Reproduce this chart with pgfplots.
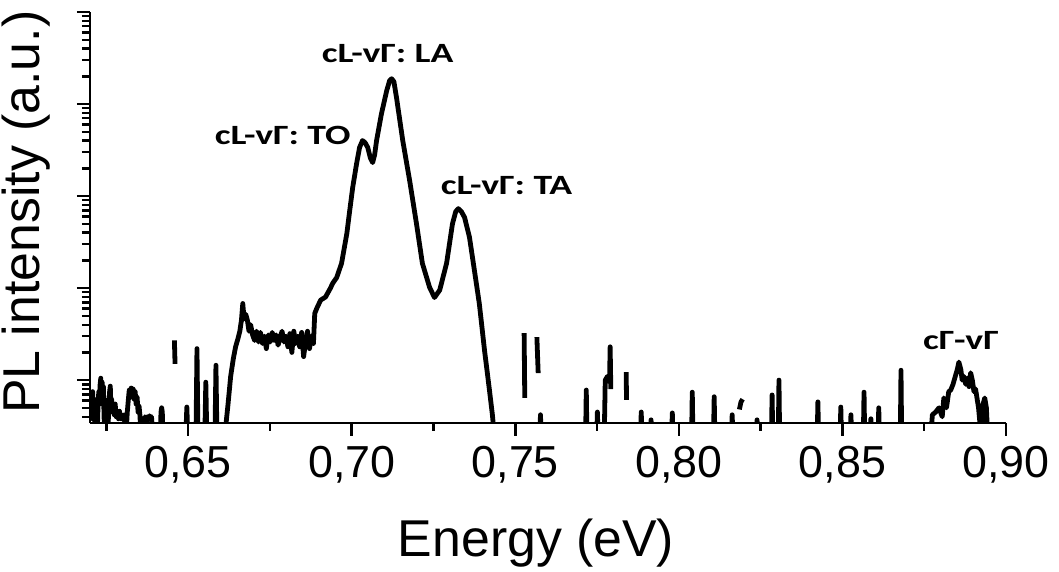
\documentclass[border=0pt]{standalone}
\usepackage{fontspec}
\setmainfont{Liberation Sans}
\newfontfamily\annfont{Carlito}
\usepackage{graphicx}
\usepackage{pgfplots}
\pgfplotsset{compat=1.18}
\newcommand{\ann}[1]{\scalebox{1.35}[1]{\fontsize{28}{33}\selectfont\annfont\bfseries #1}}
\begin{document}
\begin{tikzpicture}
\useasboundingbox (-90bp,-149bp) rectangle (969bp,423bp);
\begin{axis}[
  at={(0,0)}, anchor=south west,
  scale only axis, width=916bp, height=411bp,
  xmin=0.62, xmax=0.90, ymode=log, ymin=0.342, ymax=10000,
  axis x line*=bottom, axis y line*=left,
  axis line style={line width=2.5bp, -},
  xtick={0.65,0.70,0.75,0.80,0.85,0.90},
  minor xtick={0.625,0.675,0.725,0.775,0.825,0.875},
  ytick={1,10,100,1000,10000}, yticklabels={},
  minor ytick={0.4,0.5,0.6,0.7,0.8,0.9,2,3,4,5,6,7,8,9,20,30,40,50,60,70,80,90,200,300,400,500,600,700,800,900,2000,3000,4000,5000,6000,7000,8000,9000},
  tick align=outside,
  major tick length=13bp, minor tick length=8bp,
  every tick/.append style={line width=2.6bp, black},
  every minor tick/.append style={line width=2.4bp, black},
  xticklabel style={font=\fontsize{45}{54}\selectfont, yshift=-7bp,
    /pgf/number format/.cd, use comma, fixed, fixed zerofill, precision=2, assume math mode=true},
  xlabel={Energy (eV)}, ylabel={PL intensity (a.u.)},
  xlabel style={font=\fontsize{52}{62}\selectfont, at={(axis description cs:0.487,-0.326)}, anchor=base, inner sep=0pt},
  ylabel style={font=\fontsize{52}{62}\selectfont, at={(axis description cs:-0.0437,0.513)}, anchor=south, inner sep=0pt},
  unbounded coords=jump,
]
\addplot[black, line width=4.8bp, line join=round, no markers] table {
x y
0.6200 0.60
0.6202 0.38
0.6204 0.70
0.6206 0.40
0.6208 0.75
0.6210 0.42
0.6212 0.62
0.6214 0.36
0.6216 0.58
0.6218 0.30
0.6220 0.45
0.6222 0.25
0.6225 0.60
0.6227 0.75
0.6229 0.55
0.6231 0.90
0.6233 1.05
0.6235 0.60
0.6237 0.95
0.6239 0.55
0.6241 0.85
0.6243 0.40
0.6245 0.25
0.6248 0.45
0.6250 0.60
0.6252 0.40
0.6254 0.25
0.6258 0.55
0.6260 0.75
0.6262 0.86
0.6264 0.50
0.6266 0.62
0.6268 0.45
0.6271 0.52
0.6274 0.42
0.6277 0.55
0.6280 0.40
0.6283 0.46
0.6287 0.38
0.6290 0.46
0.6294 0.38
0.6297 0.42
0.6301 0.37
0.6304 0.42
0.6307 0.36
0.6310 0.25
0.6314 0.45
0.6317 0.60
0.6320 0.78
0.6323 0.65
0.6326 0.82
0.6329 0.70
0.6332 0.80
0.6335 0.62
0.6338 0.75
0.6341 0.55
0.6344 0.65
0.6347 0.45
0.6350 0.52
0.6353 0.40
0.6355 0.25
0.6366 0.25
0.6368 0.40
0.6372 0.36
0.6375 0.40
0.6378 0.37
0.6382 0.41
0.6385 0.38
0.6388 0.40
0.6392 0.25
0.6415 0.25
0.6417 0.45
0.6419 0.50
0.6421 0.45
0.6423 0.25
0.6493 0.25
0.6496 0.51
0.6499 0.25
0.6524 0.25
0.6527 2.2
0.6530 0.25
0.6551 0.25
0.6554 0.95
0.6557 0.25
0.6582 0.25
0.6585 1.45
0.6588 0.25
0.6612 0.25
0.6622 0.55
0.6630 1.1
0.6638 1.7
0.6645 2.3
0.6652 2.8
0.6658 3.4
0.6663 4.5
0.6667 6.8
0.6671 4.6
0.6676 5.2
0.6681 4.5
0.6686 3.4
0.6691 4.0
0.6697 3.1
0.6703 2.7
0.6709 3.4
0.6715 2.6
0.6721 3.3
0.6727 2.5
0.6733 3.0
0.6739 2.2
0.6745 3.1
0.6751 2.6
0.6757 3.3
0.6763 2.7
0.6769 3.1
0.6775 2.4
0.6781 2.9
0.6787 3.4
0.6793 2.6
0.6799 3.0
0.6805 2.3
0.6811 3.2
0.6817 2.0
0.6823 3.4
0.6829 2.5
0.6835 3.0
0.6841 2.3
0.6847 3.3
0.6853 1.8
0.6859 2.6
0.6865 3.4
0.6871 2.2
0.6877 3.0
0.6883 2.5
0.6887 5.3
0.6893 6.0
0.6905 7.4
0.6920 8.0
0.6935 10.0
0.6942 11.3
0.6954 13.0
0.6969 18.6
0.6985 39
0.6994 70
0.7003 124
0.7015 226
0.7024 337
0.7033 401
0.7041 380
0.7049 337
0.7057 260
0.7064 231
0.7070 280
0.7076 401
0.7091 787
0.7107 1400
0.7116 1800
0.7122 1885
0.7129 1750
0.7137 1170
0.7156 401
0.7177 148
0.7198 50
0.7216 18.6
0.7238 10.2
0.7253 7.9
0.7269 9.5
0.7290 18.6
0.7308 50
0.7318 68
0.7326 73
0.7335 68
0.7345 58.6
0.7360 35.6
0.7375 15.6
0.7390 6.8
0.7406 2.1
0.7421 0.78
0.7430 0.42
0.7436 0.25
nan nan
0.6458 2.7
0.6460 1.5
nan nan
0.7527 3.24
0.7529 0.64
nan nan
0.7566 2.93
0.7570 1.19
nan nan
0.7575 0.25
0.7577 0.42
0.7579 0.25
0.7715 0.25
0.7717 0.78
0.7719 0.25
0.7749 0.25
0.7751 0.45
0.7753 0.25
0.7772 0.25
0.7775 1.0
0.7782 1.1
0.7788 0.95
0.7790 2.3
0.7792 0.8
nan nan
0.7839 1.22
0.7840 0.61
nan nan
0.7883 0.25
0.7885 0.45
0.7887 0.25
0.7913 0.25
0.7915 0.37
0.7917 0.25
0.7978 0.25
0.7980 0.44
0.7982 0.25
0.8039 0.25
0.8041 0.74
0.8043 0.25
0.8106 0.25
0.8108 0.66
0.8110 0.25
0.8161 0.25
0.8163 0.42
0.8165 0.25
nan nan
0.8185 0.48
0.8190 0.58
0.8195 0.62
nan nan
0.8237 0.25
0.8239 0.37
0.8241 0.25
0.8283 0.25
0.8285 0.69
0.8287 0.25
0.8304 0.25
0.8306 1.0
0.8308 0.25
0.8423 0.25
0.8425 0.58
0.8427 0.25
0.8493 0.25
0.8495 0.51
0.8497 0.25
0.8524 0.25
0.8526 0.42
0.8528 0.25
0.8564 0.25
0.8566 0.74
0.8568 0.25
0.8585 0.25
0.8587 0.38
0.8589 0.25
0.8609 0.25
0.8611 0.50
0.8613 0.25
0.8677 0.25
0.8679 1.28
0.8681 0.25
0.8770 0.25
0.8775 0.42
0.8785 0.45
0.8795 0.50
0.8805 0.40
0.8810 0.64
0.8818 0.50
0.8825 0.75
0.8831 0.78
0.8838 0.90
0.8845 1.10
0.8851 1.30
0.8856 1.57
0.8862 1.30
0.8866 1.00
0.8871 1.10
0.8877 0.90
0.8882 1.05
0.8887 0.85
0.8892 1.20
0.8897 1.00
0.8902 0.75
0.8907 0.80
0.8911 0.65
0.8916 0.50
0.8920 0.35
0.8925 0.25
0.8930 0.55
0.8935 0.64
0.8940 0.50
0.8944 0.25
};
\node[inner sep=0pt] at (axis cs:0.6789,454) {\ann{cL-vΓ: TO}};
\node[inner sep=0pt] at (axis cs:0.7110,3520) {\ann{cL-vΓ: LA}};
\node[inner sep=0pt] at (axis cs:0.7473,130) {\ann{cL-vΓ: TA}};
\node[inner sep=0pt] at (axis cs:0.8862,2.72) {\ann{cΓ-vΓ}};
\end{axis}
\end{tikzpicture}
\end{document}
